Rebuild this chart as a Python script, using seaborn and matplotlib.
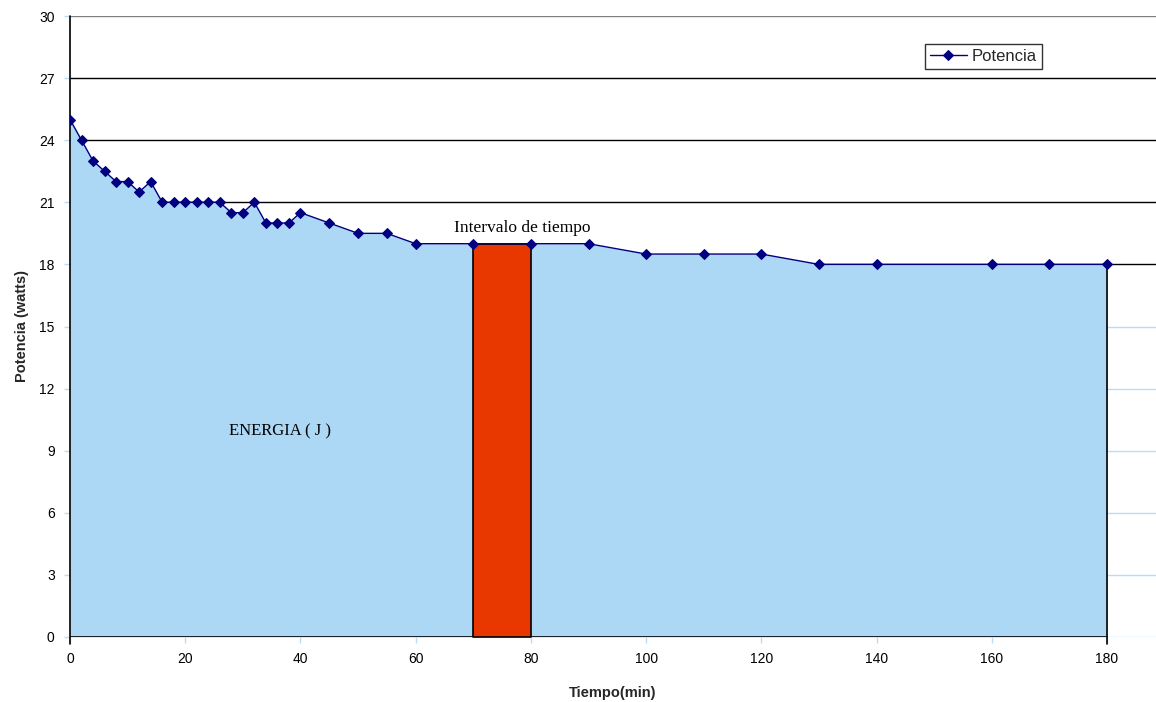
import matplotlib
matplotlib.use("Agg")
import matplotlib.pyplot as plt
import seaborn as sns
import pandas as pd

# Power readings over time
tiempo = [0, 2, 4, 6, 8, 10, 12, 14, 16, 18, 20, 22, 24, 26, 28, 30, 32, 34, 36, 38,
          40, 45, 50, 55, 60, 70, 80, 90, 100, 110, 120, 130, 140, 160, 170, 180]
potencia = [25, 24, 23, 22.5, 22, 22, 21.5, 22, 21, 21, 21, 21, 21, 21, 20.5, 20.5, 21,
            20, 20, 20, 20.5, 20, 19.5, 19.5, 19, 19, 19, 19, 18.5, 18.5, 18.5, 18, 18,
            18, 18, 18]

# Highlighted time interval
intervalo = [70, 80]
intervalo_pot = [19, 19]

y_ticks = list(range(0, 31, 3))
x_ticks = list(range(0, 181, 20))

df = pd.DataFrame({"Tiempo": tiempo, "Potencia": potencia})

sns.set_theme(style="white")
plt.rcParams["font.family"] = ["Liberation Sans", "DejaVu Sans"]

W, H = 1156, 702
fig = plt.figure(figsize=(W / 100, H / 100), dpi=100)
ax = fig.add_axes([70 / W, 1 - 637 / H, (W - 70) / W, (637 - 16) / H])

x_max = (W - 70) / ((1107 - 70) / 180)
ax.set_xlim(0, x_max)
ax.set_ylim(0, 30)

# Horizontal grid: dark above the data, pale below
pale = "#b8def7"
for yv in y_ticks:
    if yv == 30:
        col = "#808080"
    elif yv >= 18:
        col = "black"
    else:
        col = pale
    ax.axhline(yv, color=col, lw=1, zorder=0.5)

# Energy area under the curve
ax.fill_between(tiempo, potencia, 0, color="#add8f5", lw=0, zorder=1)
ax.plot([0, tiempo[-1]], [0, 0], color="black", lw=1.2, zorder=2)
ax.plot([tiempo[-1], tiempo[-1]], [-0.35, potencia[-1]], color="black", lw=1.2,
        zorder=2, clip_on=False)
ax.plot([0, 0], [-0.35, 30], color="black", lw=1.2, zorder=2, clip_on=False)

# Highlighted interval
ax.fill_between(intervalo, intervalo_pot, 0, color="#e83800", ec="black", lw=1.2, zorder=2)

sns.lineplot(data=df, x="Tiempo", y="Potencia", ax=ax, color="#000080", lw=1,
             marker="D", markersize=5.5, markeredgecolor="#000080", zorder=3,
             label="Potencia")

ax.text(78.5, 19.35, "Intervalo de tiempo", family="Liberation Serif", fontsize=12.5,
        ha="center", va="bottom", color="black")
ax.text(36.5, 9.95, "ENERGIA ( J )", family="Liberation Serif", fontsize=12,
        ha="center", va="center", color="black")

for s in ax.spines.values():
    s.set_visible(False)

ax.set_xticks(x_ticks)
ax.set_yticks(y_ticks)
ax.tick_params(axis="both", length=4, width=1, color=pale, labelsize=10,
               labelcolor="black", direction="out", left=True, bottom=True)
ax.tick_params(axis="y", pad=7)
ax.tick_params(axis="x", pad=7)
for t in ax.yaxis.get_major_ticks():
    if t.get_loc() >= 27:
        t.tick1line.set_color("black")
ax.set_xlabel("Tiempo(min)", fontsize=10.5, fontweight="bold", labelpad=14)
ax.set_ylabel("Potencia (watts)", fontsize=10.5, fontweight="bold", labelpad=7)
ax.grid(False)

leg = ax.legend(loc="upper left", bbox_to_anchor=((925 - 70) / 1086, (637 - 44) / 621),
                frameon=True, fancybox=False, edgecolor="black", fontsize=12,
                handlelength=2.2, handletextpad=0.3, borderpad=0.3, borderaxespad=0)
leg.get_frame().set_linewidth(1)

fig.savefig("out.png", dpi=100)
